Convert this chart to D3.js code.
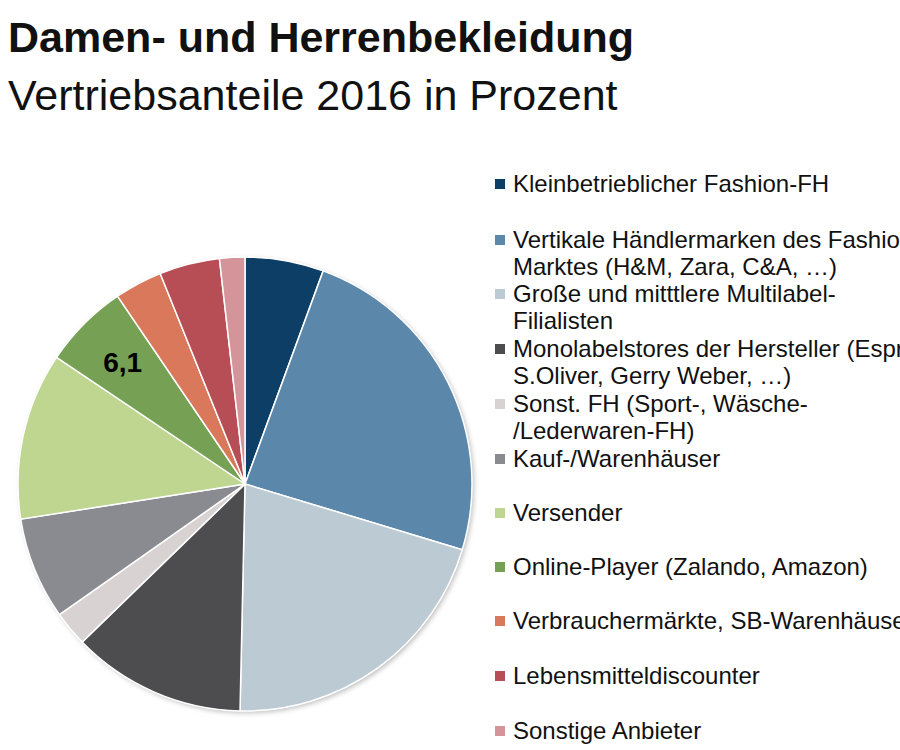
<!DOCTYPE html>
<html>
<head>
<meta charset="utf-8">
<script src="https://cdn.jsdelivr.net/npm/d3@7"></script>
<style>
  body { margin: 0; background: #fff; }
  svg { font-family: "Liberation Sans", Arial, sans-serif; display: block; }
</style>
</head>
<body>
<svg width="900" height="750"></svg>
<script>
const categories = [
  ['Kleinbetrieblicher Fashion-FH'],
  ['Vertikale Händlermarken des Fashion-', 'Marktes (H&M, Zara, C&A, …)'],
  ['Große und mitttlere Multilabel-', 'Filialisten'],
  ['Monolabelstores der Hersteller (Esprit,', 'S.Oliver, Gerry Weber, …)'],
  ['Sonst. FH (Sport-, Wäsche-', '/Lederwaren-FH)'],
  ['Kauf-/Warenhäuser'],
  ['Versender'],
  ['Online-Player (Zalando, Amazon)'],
  ['Verbrauchermärkte, SB-Warenhäuser'],
  ['Lebensmitteldiscounter'],
  ['Sonstige Anbieter']
];
const values = [5.6, 24.1, 20.7, 12.4, 2.5, 7.3, 11.9, 6.1, 3.4, 4.3, 1.8];
const colors = ['#0d3f66', '#5b87ab', '#bccad4', '#4d4d4f', '#d9d2d3', '#8a8b90',
                '#bed68f', '#76a155', '#d9785a', '#b84e55', '#d4949a'];
const shownLabels = ['', '', '', '', '', '', '', '6,1', '', '', ''];
const legendRows = [184, 240, 294, 349, 404, 459, 513, 567, 621, 676, 731];

const svg = d3.select('svg');

svg.append('text').attr('x', 8).attr('y', 52)
  .attr('font-size', 43).attr('font-weight', 'bold').attr('fill', '#111')
  .text('Damen- und Herrenbekleidung');
svg.append('text').attr('x', 8).attr('y', 110)
  .attr('font-size', 43).attr('fill', '#111')
  .text('Vertriebsanteile 2016 in Prozent');

const defs = svg.append('defs');
const f = defs.append('filter').attr('id', 'shadow')
  .attr('x', '-10%').attr('y', '-10%').attr('width', '120%').attr('height', '120%');
f.append('feDropShadow').attr('dx', 2).attr('dy', 2).attr('stdDeviation', 2.5)
  .attr('flood-color', '#000').attr('flood-opacity', 0.25);

const cx = 245, cy = 484, radius = 227;
const g = svg.append('g').attr('transform', 'translate(' + cx + ',' + cy + ')');

const pie = d3.pie().value(d => d).sort(null);
const arc = d3.arc().innerRadius(0).outerRadius(radius);
const labelArc = d3.arc().innerRadius(radius * 0.76).outerRadius(radius * 0.76);
const arcs = pie(values);

g.append('circle').attr('r', radius).attr('fill', '#fff').attr('filter', 'url(#shadow)');

g.selectAll('.slice')
  .data(arcs)
  .enter()
  .append('path')
  .attr('class', 'slice')
  .attr('d', arc)
  .attr('fill', (d, i) => colors[i])
  .attr('stroke', '#fff')
  .attr('stroke-width', 1.5);

g.selectAll('.lbl')
  .data(arcs)
  .enter()
  .append('text')
  .attr('class', 'lbl')
  .attr('x', d => labelArc.centroid(d)[0])
  .attr('y', d => labelArc.centroid(d)[1])
  .attr('text-anchor', 'middle')
  .attr('dy', '0.36em')
  .attr('font-size', 28).attr('font-weight', 'bold').attr('fill', '#000')
  .text((d, i) => shownLabels[i]);

const legend = svg.append('g');
const item = legend.selectAll('.item')
  .data(categories)
  .enter()
  .append('g')
  .attr('class', 'item')
  .attr('transform', (d, i) => 'translate(495,' + legendRows[i] + ')');

item.append('rect')
  .attr('x', 0).attr('y', -5).attr('width', 10).attr('height', 10)
  .attr('fill', (d, i) => colors[i]);

item.each(function(d) {
  const t = d3.select(this).append('text')
    .attr('x', 18).attr('y', 8)
    .attr('font-size', 24).attr('fill', '#111');
  d.forEach((line, j) => {
    t.append('tspan').attr('x', 18).attr('y', 8 + j * 26.5).text(line);
  });
});
</script>
</body>
</html>
